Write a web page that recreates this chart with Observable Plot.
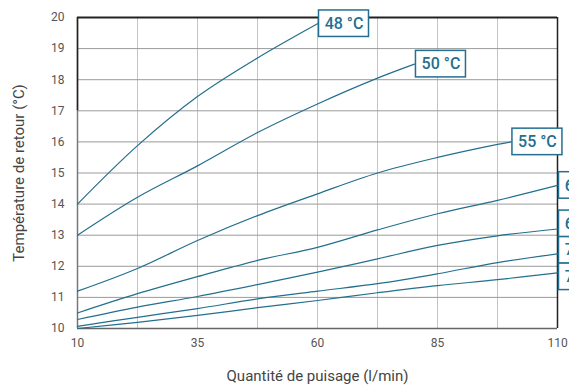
<!DOCTYPE html>
<html><head><meta charset="utf-8">
<script src="https://cdn.jsdelivr.net/npm/d3@7"></script>
<script src="https://cdn.jsdelivr.net/npm/@observablehq/plot@0.6"></script>
<style>html,body{margin:0;padding:0;background:#fff;}</style>
</head><body><div id="chart"></div>
<script>
// Data
const xTicks = [10, 35, 60, 85, 110];
const yTicks = [10, 11, 12, 13, 14, 15, 16, 17, 18, 19, 20];
const xGrid = [22.5, 35, 47.5, 60, 72.5, 85, 97.5];
const yGrid = [11, 12, 13, 14, 15, 16, 17, 18, 19];

const seriesLabels = ["48 °C", "50 °C", "55 °C", "60 °C", "65 °C", "70 °C", "75 °C"];
const flows48 = [10, 22.5, 35, 47.5, 60];
const temps48 = [14.0, 15.88, 17.46, 18.7, 19.8];
const flows50 = [10, 22.5, 35, 47.5, 60, 72.5, 80.2];
const temps50 = [13.0, 14.22, 15.23, 16.3, 17.22, 18.05, 18.5];
const flows55 = [10, 22.5, 35, 47.5, 60, 72.5, 85, 97.5, 100.3];
const temps55 = [11.2, 11.93, 12.83, 13.63, 14.33, 15.0, 15.5, 15.92, 16.0];
const flows60 = [10, 22.5, 35, 47.5, 60, 72.5, 85, 97.5, 110];
const temps60 = [10.5, 11.12, 11.67, 12.19, 12.61, 13.17, 13.69, 14.12, 14.6];
const flows65 = [10, 22.5, 35, 47.5, 60, 72.5, 85, 97.5, 110];
const temps65 = [10.29, 10.69, 11.03, 11.41, 11.81, 12.24, 12.67, 12.98, 13.2];
const flows70 = [10, 22.5, 35, 47.5, 60, 72.5, 85, 97.5, 110];
const temps70 = [10.07, 10.36, 10.64, 10.95, 11.2, 11.44, 11.76, 12.12, 12.4];
const flows75 = [10, 22.5, 35, 47.5, 60, 72.5, 85, 97.5, 110];
const temps75 = [10.0, 10.2, 10.42, 10.67, 10.9, 11.15, 11.38, 11.57, 11.79];

const flowSets = [flows48, flows50, flows55, flows60, flows65, flows70, flows75];
const tempSets = [temps48, temps50, temps55, temps60, temps65, temps70, temps75];

// Build tidy table
const rows = [];
seriesLabels.forEach((s, i) => flowSets[i].forEach((f, j) => rows.push({series: s, flow: f, temp: tempSets[i][j]})));

// Label boxes at end of each curve, dodged vertically to avoid overlap
const W = 569, H = 389, mL = 77, mR = 12, mT = 17, mB = 61;
const pxPerX = (W - mL - mR) / 100;
const pxPerY = (H - mT - mB) / 10;
const boxW = 50 / pxPerX, boxH = 26.5 / pxPerY, gap = 1.5 / pxPerX;
let ends = seriesLabels.map((s, i) => {
  const n = flowSets[i].length - 1;
  return {series: s, x: flowSets[i][n], y: tempSets[i][n], cy: tempSets[i][n]};
});
const groups = d3.groups(ends, d => d.x);
for (const [, g] of groups) {
  g.sort((a, b) => b.y - a.y);
  let clusters = g.map(d => [d]);
  let changed = true;
  while (changed) {
    changed = false;
    for (let k = 0; k < clusters.length - 1; k++) {
      const a = clusters[k], b = clusters[k + 1];
      const ma = d3.mean(a, d => d.y), mb = d3.mean(b, d => d.y);
      const bottomA = ma - (a.length - 1) * boxH / 2 - boxH / 2;
      const topB = mb + (b.length - 1) * boxH / 2 + boxH / 2;
      if (topB > bottomA + 1e-9) { clusters.splice(k, 2, a.concat(b)); changed = true; break; }
    }
  }
  for (const c of clusters) {
    const m = d3.mean(c, d => d.y) + 0.05;
    c.forEach((d, k) => { d.cy = (c.length > 1 ? m : d.y) + ((c.length - 1) / 2 - k) * boxH; });
  }
}
const boxes = ends.map(d => ({series: d.series, x1: d.x + gap, x2: d.x + gap + boxW, y1: d.cy - boxH / 2, y2: d.cy + boxH / 2, tx: d.x + gap + boxW / 2, ty: d.cy}));

const teal = "#236f8e";

const chart = Plot.plot({
  width: W, height: H,
  marginLeft: mL, marginRight: mR, marginTop: mT, marginBottom: mB,
  style: {fontFamily: "Roboto, 'DejaVu Sans', sans-serif", fontSize: "12px", color: "#555", background: "#fff", overflow: "visible"},
  x: {domain: [10, 110], ticks: xTicks, tickSize: 0, tickPadding: 10, label: null},
  y: {domain: [10, 20], ticks: yTicks, tickSize: 0, tickPadding: 13, label: null},
  marks: [
    Plot.ruleX(xGrid, {stroke: "#c4c4c4", strokeWidth: 1}),
    Plot.ruleY(yGrid, {stroke: "#9a9a9a", strokeWidth: 1}),
    Plot.ruleY([10], {stroke: "#666", strokeWidth: 1.5}),
    Plot.ruleX([10], {stroke: "#777", strokeWidth: 1.5}),
    Plot.ruleX([10], {y1: 17, y2: 20, stroke: "#222", strokeWidth: 1.5}),
    Plot.ruleX([110], {stroke: "#222", strokeWidth: 1.5}),
    Plot.ruleY([20], {stroke: "#222", strokeWidth: 2}),
    Plot.line(rows, {x: "flow", y: "temp", z: "series", stroke: teal, strokeWidth: 1.2, curve: "catmull-rom"}),
    Plot.rect(boxes, {x1: "x1", x2: "x2", y1: "y1", y2: "y2", fill: "#fff", stroke: teal, strokeWidth: 1.5}),
    Plot.text(boxes, {x: "tx", y: "ty", text: "series", fill: teal, fontSize: 16, fontWeight: 500}),
    Plot.text(["Température de retour (°C)"], {frameAnchor: "left", textAnchor: "middle", rotate: -90, dx: -58, fontSize: 15, fill: "#444"}),
    Plot.text(["Quantité de puisage (l/min)"], {frameAnchor: "bottom", dy: 52, fontSize: 15, fill: "#444"})
  ]
});
document.getElementById("chart").appendChild(chart);
</script>
</body></html>
